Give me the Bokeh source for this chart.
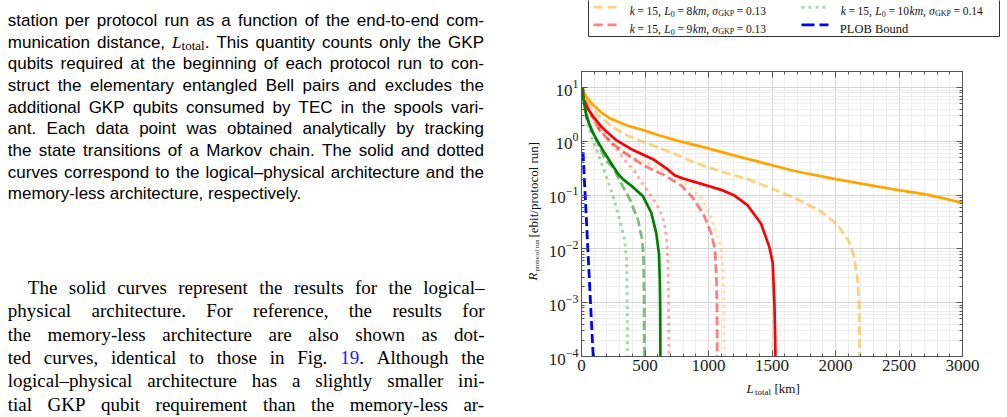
import math
from bokeh.plotting import figure
from bokeh.layouts import row, column
from bokeh.models import Range1d, LinearAxis, LogAxis, FixedTicker, CustomJSTickFormatter
from bokeh.core.properties import value
from bokeh.embed import file_html
from bokeh.resources import INLINE

# ---------------- chart data: L_total [km] and log10(R_protocol run) ----------------
orange_solid_L = [8, 20, 50, 92, 150, 223, 353, 484, 615, 746, 982, 1200, 1414, 1676, 2000, 2461, 2723, 3000]
orange_solid_log10R = [1.00, 0.90, 0.79, 0.68, 0.55, 0.43, 0.30, 0.21, 0.11, 0.02, -0.12, -0.26, -0.39, -0.55, -0.70, -0.89, -0.99, -1.14]

red_solid_L = [8, 13, 39, 92, 170, 270, 406, 563, 668, 733, 800, 916, 1000, 1100, 1200, 1309, 1414, 1480, 1505, 1519, 1526, 1530]
red_solid_log10R = [1.00, 0.82, 0.65, 0.46, 0.24, 0.03, -0.16, -0.33, -0.50, -0.63, -0.69, -0.77, -0.83, -0.90, -1.00, -1.19, -1.53, -1.97, -2.25, -3.0, -3.8, -4.6]

green_solid_L = [8, 13, 39, 92, 170, 240, 290, 330, 406, 484, 550, 589, 610, 617, 620, 622]
green_solid_log10R = [1.00, 0.84, 0.46, 0.15, -0.17, -0.43, -0.61, -0.71, -0.85, -1.02, -1.33, -1.71, -2.09, -2.6, -3.2, -4.6]

orange_dashed_L = [8, 30, 70, 131, 250, 353, 500, 700, 900, 1100, 1309, 1493, 1676, 1885, 2016, 2108, 2147, 2173, 2186, 2192]
orange_dashed_log10R = [1.00, 0.85, 0.68, 0.49, 0.26, 0.12, -0.02, -0.20, -0.40, -0.56, -0.70, -0.87, -1.05, -1.30, -1.55, -1.87, -2.15, -2.56, -3.06, -4.6]

red_dashed_L = [8, 30, 80, 144, 249, 345, 484, 654, 786, 877, 960, 1020, 1050, 1062, 1067, 1070]
red_dashed_log10R = [1.00, 0.75, 0.50, 0.20, -0.05, -0.22, -0.44, -0.63, -0.82, -1.05, -1.35, -1.70, -2.00, -2.5, -3.1, -4.6]

green_dashed_L = [8, 20, 65, 118, 190, 249, 301, 380, 445, 479, 489, 493, 495]
green_dashed_log10R = [1.00, 0.75, 0.27, 0.02, -0.35, -0.48, -0.73, -1.07, -1.46, -1.84, -2.2, -3.0, -4.6]

orange_dotted_L = [8, 40, 100, 200, 300, 400, 563, 746, 850, 943, 1021, 1060, 1100, 1115, 1122, 1127]
orange_dotted_log10R = [0.98, 0.60, 0.35, 0.05, -0.15, -0.30, -0.45, -0.64, -0.85, -1.05, -1.42, -1.70, -2.0, -2.4, -3.0, -4.6]

red_dotted_L = [8, 40, 118, 196, 275, 353, 420, 484, 560, 615, 650, 668, 680, 685, 688]
red_dotted_log10R = [0.98, 0.65, 0.33, 0.08, -0.14, -0.38, -0.56, -0.80, -1.05, -1.27, -1.50, -1.75, -2.2, -3.0, -4.6]

green_dotted_L = [8, 30, 79, 131, 165, 210, 249, 301, 340, 355, 360, 363]
green_dotted_log10R = [0.98, 0.50, 0.08, -0.23, -0.46, -0.75, -1.02, -1.46, -1.84, -2.2, -3.0, -4.6]

plob_L = [12, 25, 39, 52, 65, 78, 92, 100]
plob_log10R = [-0.20, -0.82, -1.48, -2.10, -2.72, -3.34, -4.00, -4.38]

X_TICKS = [0, 500, 1000, 1500, 2000, 2500, 3000]
Y_TICK_EXPONENTS = [-4, -3, -2, -1, 0, 1]

# ---------------- page text ----------------
CAPTION_LINES = [
    "station per protocol run as a function of the end-to-end com-",
    "munication distance, @L This quantity counts only the GKP",
    "qubits required at the beginning of each protocol run to con-",
    "struct the elementary entangled Bell pairs and excludes the",
    "additional GKP qubits consumed by TEC in the spools vari-",
    "ant. Each data point was obtained analytically by tracking",
    "the state transitions of a Markov chain. The solid and dotted",
    "curves correspond to the logical\u2013physical architecture and the",
    "memory-less architecture, respectively.",
]
BODY_LINES = [
    "The solid curves represent the results for the logical\u2013",
    "physical architecture. For reference, the results for",
    "the memory-less architecture are also shown as dot-",
    "ted curves, identical to those in Fig. @19. Although the",
    "logical\u2013physical architecture has a slightly smaller ini-",
    "tial GKP qubit requirement than the memory-less ar-",
]

SERIF = "Liberation Serif"
SANS = "Liberation Sans"

ARIAL = dict(zip("abcdefghijklmnopqrstuvwxyz",
                 [556, 556, 500, 556, 556, 278, 556, 556, 222, 222, 500, 222, 833, 556, 556, 556, 556, 333, 500, 278, 556, 500, 722, 500, 500, 500]))
ARIAL.update({" ": 278, ",": 278, ".": 278, "-": 333, "\u2013": 556, "E": 667, "M": 833, "C": 722,
              "T": 611, "G": 778, "K": 667, "P": 667, "B": 667})
TIMES = dict(zip("abcdefghijklmnopqrstuvwxyz",
                 [444, 500, 444, 500, 444, 333, 500, 500, 278, 278, 500, 278, 778, 500, 500, 500, 500, 333, 389, 278, 500, 500, 722, 500, 500, 444]))
TIMES.update({" ": 250, ",": 250, ".": 250, "-": 333, "\u2013": 500, "=": 564, "T": 611, "F": 556, "A": 722,
              "G": 722, "K": 722, "P": 556, "L": 611, "O": 722, "B": 667})
TIMES.update({d: 500 for d in "0123456789"})
TIMES_IT = dict(TIMES, L=556, k=444, m=722, R=611)
TIMES_IT["\u03c3"] = 500


def seg(text, font, size, style="normal", dy=0.0, color="black"):
    return dict(text=text, font=font, size=size, style=style, dy=dy, color=color)


def seg_w(s):
    if s["font"] == SERIF:
        tbl = TIMES_IT if s["style"] == "italic" else TIMES
    else:
        tbl = ARIAL
    return sum(tbl.get(c, 500) for c in s["text"]) * s["size"] / 1000.0


def tokens_for(word, font, size):
    if word == "@L":
        return [seg("L", SERIF, size, "italic"), seg("total", SERIF, 13, dy=3.5), seg(".", font, size)]
    if word == "@19.":
        return [seg("19", font, size, color="#1a1aff"), seg(".", font, size)]
    return [seg(word, font, size)]


def emit(groups, s, x, y):
    key = (s["font"], s["style"], s["size"], s["color"])
    g = groups.setdefault(key, dict(x=[], y=[], text=[]))
    g["x"].append(x)
    g["y"].append(y + s["dy"])
    g["text"].append(s["text"])


def layout_line(groups, line, font, size, x0, x1, y, justify):
    toks = [tokens_for(w, font, size) for w in line.split(" ")]
    widths = [sum(seg_w(s) for s in t) for t in toks]
    space = (ARIAL if font == SANS else TIMES)[" "] * size / 1000.0
    gap = (x1 - x0 - sum(widths)) / (len(toks) - 1) if (justify and len(toks) > 1) else space
    x = x0
    for t, w in zip(toks, widths):
        xx = x
        for s in t:
            emit(groups, s, xx, y)
            xx += seg_w(s)
        x += w + gap


def draw_groups(fig, groups, angle=0.0, baseline="alphabetic"):
    for (font, style, size, color), g in groups.items():
        fig.text(x=g["x"], y=g["y"], text=g["text"], text_font=value(font), text_font_style=value(style),
                 text_font_size=value(f"{size}px"), text_color=color, text_baseline=baseline,
                 text_align="left", angle=angle)


def helper_fig(x0, x1, y0, y1, left_border=0):
    f = figure(frame_width=int(x1 - x0), frame_height=int(y1 - y0), x_range=Range1d(x0, x1), y_range=Range1d(y1, y0),
               output_backend="svg", toolbar_location=None, min_border_left=left_border, min_border_right=0,
               min_border_top=0, min_border_bottom=0, min_border=0,
               x_axis_location=None, y_axis_location=None, outline_line_color=None, title=None)
    f.grid.visible = False
    return f


TXT_W = 545      # page x where the right-hand column starts
FRAME_L = 580    # page x of the chart frame's left edge
LEFT_B = FRAME_L - TXT_W

# ---------------- left page text (+ y-axis title) ----------------
txt = helper_fig(0, TXT_W, 0, 417)
para = {}
for i, line in enumerate(CAPTION_LINES):
    layout_line(para, line, SANS, 17, 7.3, 483.5, 20 + 21.68 * i, i < len(CAPTION_LINES) - 1)
for i, line in enumerate(BODY_LINES):
    layout_line(para, line, SERIF, 19, 27.3 if i == 0 else 7.3, 484.0, 287 + 23.35 * i, True)
draw_groups(txt, para)

ytitle = {}
emit(ytitle, seg("R", SERIF, 13, "italic", color="#111111"), 531.7, 280)
emit(ytitle, seg("protocol run", SERIF, 6.5, color="#111111"), 535.5, 271)
emit(ytitle, seg("[ebit/protocol run]", SERIF, 13, color="#111111"), 533.0, 237)
draw_groups(txt, ytitle, angle=math.pi / 2, baseline="middle")

# ---------------- chart ----------------
CH_H = 339
chart = figure(width=1007 - TXT_W, height=CH_H, y_axis_type="log",
               x_range=Range1d(0, 3000), y_range=Range1d(1e-4, 20),
               output_backend="svg", toolbar_location=None,
               min_border_left=LEFT_B, min_border_right=45, min_border_top=31, min_border_bottom=23)
chart.background_fill_color = "white"
chart.outline_line_color = "#555555"

xticker = FixedTicker(ticks=X_TICKS, minor_ticks=list(range(0, 3001, 100)))
yticker = FixedTicker(ticks=[10.0 ** e for e in Y_TICK_EXPONENTS],
                      minor_ticks=[m * 10.0 ** e for e in range(-4, 2) for m in range(1, 10)])
chart.add_layout(LinearAxis(formatter=CustomJSTickFormatter(code="return '';")), "above")
chart.add_layout(LogAxis(formatter=CustomJSTickFormatter(code="return '';")), "right")
chart.xaxis.ticker = xticker
chart.yaxis.ticker = yticker
for ax in chart.axis:
    ax.major_tick_in = 6
    ax.major_tick_out = 0
    ax.minor_tick_in = 3
    ax.minor_tick_out = 0
    ax.axis_line_color = "#555555"
    ax.major_tick_line_color = "#555555"
    ax.minor_tick_line_color = "#555555"
    ax.major_label_text_font = SERIF
    ax.major_label_text_font_size = "17px"
    ax.major_label_text_color = "#1a1a1a"
    ax.major_label_standoff = 3
for g in chart.grid:
    g.grid_line_color = "#d4d4d4"
    g.minor_grid_line_color = "#ededed"

SERIES = [
    (orange_dotted_L, orange_dotted_log10R, "orange", 0.32, "3 4", 3.0),
    (red_dotted_L, red_dotted_log10R, "red", 0.32, "3 4", 3.0),
    (green_dotted_L, green_dotted_log10R, "green", 0.32, "3 4", 3.0),
    (orange_dashed_L, orange_dashed_log10R, "orange", 0.5, "9 4", 2.8),
    (red_dashed_L, red_dashed_log10R, "red", 0.5, "9 4", 2.8),
    (green_dashed_L, green_dashed_log10R, "green", 0.5, "9 4", 2.8),
    (orange_solid_L, orange_solid_log10R, "orange", 1.0, "solid", 2.7),
    (red_solid_L, red_solid_log10R, "red", 1.0, "solid", 2.7),
    (green_solid_L, green_solid_log10R, "green", 1.0, "solid", 2.7),
    (plob_L, plob_log10R, "blue", 1.0, "9 4", 2.8),
]
for L, lg, color, alpha, dash, w in SERIES:
    chart.line(x=L, y=[10.0 ** v for v in lg], line_color=color, line_alpha=alpha,
               line_dash=dash, line_width=w)

# ---------------- x-axis title below the chart (frame aligned with the chart's) ----------------
CH_BOTTOM = 40 + CH_H
xt = helper_fig(FRAME_L, 1007, CH_BOTTOM, 417, left_border=LEFT_B)
xtitle = {}
emit(xtitle, seg("L", SERIF, 13, "italic", color="#111111"), 745.0, 388)
emit(xtitle, seg("total", SERIF, 9, dy=3.5, color="#111111"), 753.5, 388)
emit(xtitle, seg("[km]", SERIF, 13, color="#111111"), 773.0, 388)
draw_groups(xt, xtitle)

# ---------------- legend (its top part is cut off on the page) ----------------
leg = helper_fig(FRAME_L, 1007, 0, 40, left_border=LEFT_B)
leg.quad(left=[587], right=[998], top=[-6], bottom=[36], fill_color="white", line_color="#333333", line_width=1)

SWATCHES = [
    (592, 615, 6.7, "orange", 0.5, "9 5", 2.8),
    (592, 615, 24.3, "red", 0.5, "9 5", 2.8),
    (800, 827, 6.7, "green", 0.32, "3 4", 3.0),
    (800, 827, 24.3, "blue", 1.0, "13 5", 2.8),
]
for xa, xb, yy, color, alpha, dash, w in SWATCHES:
    leg.line(x=[xa, xb], y=[yy, yy], line_color=color, line_alpha=alpha, line_dash=dash, line_width=w)


def legend_parts(l0, sig):
    return [("k", "it", 0), ("=", "n", 2.6), ("15,", "n", 2.6), ("L", "it", 3.2), ("0", "sub", 0.3),
            ("=", "n", 2.6), (l0, "n", 2.6), ("km", "it", 0.5), (",", "n", 0), ("\u03c3", "it", 3.2),
            ("GKP", "sub", 0.2), ("=", "n", 2.6), (sig, "n", 2.6)]


legend_txt = {}


def legend_line(x0, y, parts):
    x = x0
    for t, kind, gap in parts:
        x += gap
        if kind == "sub":
            s = seg(t, SERIF, 8, dy=2.7, color="#111111")
        elif kind == "it":
            s = seg(t, SERIF, 11.5, "italic", color="#111111")
        else:
            s = seg(t, SERIF, 11.5, color="#111111")
        emit(legend_txt, s, x, y)
        x += seg_w(s)


legend_line(628.3, 10.7, legend_parts("8", "0.13"))
legend_line(628.3, 28.3, legend_parts("9", "0.13"))
legend_line(839.3, 10.7, legend_parts("10", "0.14"))
emit(legend_txt, seg("PLOB Bound", SERIF, 12.5, color="#111111"), 838.3, 28.3)
draw_groups(leg, legend_txt)

page = row(txt, column(leg, chart, xt))
open("out.html", "w").write(file_html(page, INLINE))
